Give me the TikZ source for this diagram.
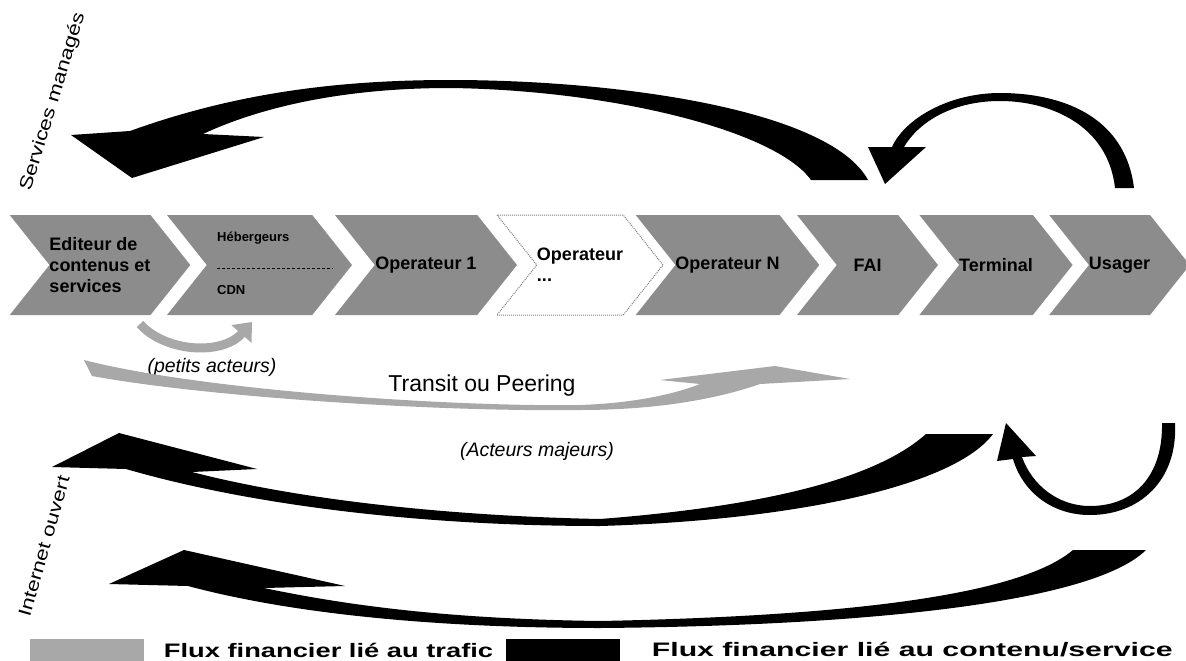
\documentclass[tikz,border=0pt]{standalone}
\usepackage{fontspec}
\setmainfont{Liberation Sans}
\newfontfamily\legendfont[FakeStretch=1.4]{Liberation Sans}
\newfontfamily\legendwidefont[FakeStretch=1.55]{Liberation Sans}
\newfontfamily\sidefont[FakeStretch=1.25]{Liberation Sans}
\usepackage{tikz}
\usetikzlibrary{positioning,arrows.meta,shapes.symbols}
\definecolor{chevgray}{gray}{0.55}
\definecolor{flowgray}{gray}{0.66}

\begin{document}
\begin{tikzpicture}[
  x=1pt, y=-1pt,
  chev/.style={signal, signal to=east, signal from=west, signal pointer angle=103, minimum height=100pt, inner sep=0pt, fill=chevgray, align=left, font=\fontsize{18}{21}\selectfont\bfseries},
  chevopen/.style={chev, fill=white, draw=gray, densely dotted, line width=1pt},
  sublbl/.style={anchor=west, inner sep=0pt, font=\fontsize{13}{15}\selectfont\bfseries},
  money/.style={fill=black},
  traffic/.style={fill=flowgray},
  note/.style={font=\fontsize{19.5}{22}\selectfont\itshape},
  side/.style={font=\sidefont\fontsize{18}{21}\selectfont},
  keybox/.style={minimum width=114pt, minimum height=22pt, inner sep=0pt},
  keytxt/.style={anchor=west, inner sep=0pt, font=\legendfont\fontsize{19.5}{22}\selectfont\bfseries},
  keytxtwide/.style={keytxt, font=\legendwidefont\fontsize{19.5}{22}\selectfont\bfseries},
]
\useasboundingbox (0,0) rectangle (1186,661);

% value chain
\node[chev, minimum width=180pt] (edit) at (100,265) {Editeur de\\contenus et\\services};
\node[chev, minimum width=185pt] (cdn) at (259.5,265) {};
\node[chev, minimum width=182pt] (op1) at (426,265) {Operateur 1};
\node[chevopen, minimum width=166pt] (opx) at (580,265) {Operateur\\...};
\node[chev, minimum width=169pt] (opn) at (727.5,265) {Operateur N};
\node[chev, minimum width=141pt] (fai) at (867.5,265) {FAI};
\node[chev, minimum width=152pt] (term) at (996,265) {Terminal};
\node[chev, minimum width=133pt] (user) at (1119.5,265) {Usager};

\node[sublbl] (heb) at (217,238) {Hébergeurs};
\node[sublbl] (cdnlbl) at (217,290) {CDN};
\coordinate (sep) at (333,268);
\draw[densely dashed, line width=0.8pt] (heb.west |- sep) -- (sep);

% services managés
\fill[money] (811,180) .. controls (775,130) and (610,90) .. (450,88) .. controls (330,88) and (250,112) .. (203,134) -- (264,137) -- (132,178) -- (71,135) -- (130,131) .. controls (230,95) and (330,80) .. (450,80) .. controls (620,80) and (830,110) .. (868,180) -- cycle;
\fill[money] (1134,188) .. controls (1125,115) and (1060,93) .. (1000,93) .. controls (950,93) and (905,118) .. (892,147) -- (868,147) -- (885,184) -- (926,147) -- (904,147) .. controls (920,120) and (955,101) .. (1000,101) .. controls (1050,101) and (1108,125) .. (1115,188) -- cycle;
\node[side, rotate=73] (managed) at (53,102) {Services managés};

% transit / peering
\draw[flowgray, line width=9pt, -{Triangle[length=16pt,width=26pt]}] (140,324) .. controls (165,352) and (222,356) .. (252,322);
\node[note] (petits) at (212,367) {(petits acteurs)};
\fill[traffic] (84,360) .. controls (200,390) and (450,407) .. (580,405) .. controls (640,403) and (680,392) .. (700,384) -- (660,380) -- (775,366) -- (850,379) -- (760,384) .. controls (720,398) and (660,410) .. (580,410) .. controls (430,412) and (200,396) .. (92,376) -- cycle;
\node[font=\fontsize{23}{26}\selectfont] (transit) at (482,386) {Transit ou Peering};
\node[note] (majeurs) at (537,451) {(Acteurs majeurs)};

% internet ouvert
\fill[money] (926,434) .. controls (880,475) and (780,505) .. (600,519) .. controls (450,516) and (300,500) .. (192,472) -- (257,469) -- (119,433) -- (52,467) -- (126,469) .. controls (250,505) and (420,526) .. (600,526) .. controls (800,520) and (955,485) .. (993,434) -- cycle;
\fill[money] (1175,423) .. controls (1178,480) and (1140,515) .. (1090,515) .. controls (1050,515) and (1022,490) .. (1013,459) -- (997,461) -- (1006,423) -- (1036,456) -- (1022,457) .. controls (1032,485) and (1058,506) .. (1090,506) .. controls (1135,506) and (1163,475) .. (1162,423) -- cycle;
\fill[money] (1073,550) .. controls (1020,595) and (850,616) .. (600,621) .. controls (450,619) and (350,606) .. (264,588) -- (345,586) -- (184,550) -- (109,584) -- (188,586) .. controls (300,616) and (450,628) .. (600,628) .. controls (850,626) and (1090,605) .. (1146,550) -- cycle;
\node[side, rotate=74] (open) at (44,546) {Internet ouvert};

% legend
\node[keybox, fill=flowgray] (keytraffic) at (86.5,650) {};
\node[keytxt, right=20pt of keytraffic] (keytraffictxt) {Flux financier lié au trafic};
\node[keybox, fill=black] (keycontent) at (562.5,650) {};
\node[keytxtwide, right=32pt of keycontent] (keycontenttxt) {Flux financier lié au contenu/service};
\end{tikzpicture}
\end{document}
